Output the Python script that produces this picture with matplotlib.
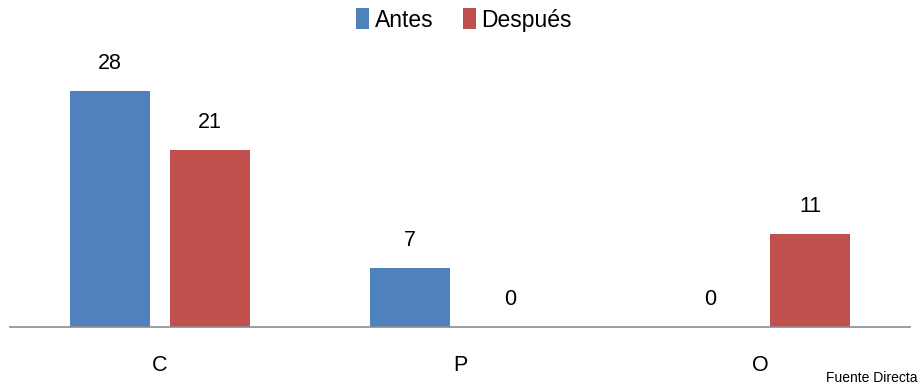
import matplotlib
matplotlib.use("Agg")
import matplotlib.pyplot as plt
import numpy as np

categories = ["C", "P", "O"]
antes = [28, 7, 0]
despues = [21, 0, 11]
series_names = ["Antes", "Después"]
source_note = "Fuente Directa"

BLUE = "#4F81BD"
RED = "#C0504D"

plt.rcParams["font.family"] = ["Liberation Sans", "DejaVu Sans"]

fig = plt.figure(figsize=(9.23, 3.85), dpi=100)
ax = fig.add_axes([10 / 923, 58 / 385, 900 / 923, 287 / 385])

x = np.arange(len(categories))
w = 80 / 300
off = 50 / 300
b1 = ax.bar(x - off, antes, w, color=BLUE, label=series_names[0])
b2 = ax.bar(x + off, despues, w, color=RED, label=series_names[1])

for bars in (b1, b2):
    for rect in bars:
        h = rect.get_height()
        ax.annotate(f"{h:g}", (rect.get_x() + rect.get_width() / 2, h),
                    xytext=(0, 12), textcoords="offset points",
                    ha="center", va="bottom", fontsize=15.5)

ax.set_xlim(-0.5, 2.5)
ax.set_ylim(0, 34)
ax.set_xticks(x)
ax.set_xticklabels(categories, fontsize=15.5)
ax.tick_params(axis="x", length=0, pad=20)
ax.set_yticks([])
for s in ("top", "right", "left"):
    ax.spines[s].set_visible(False)
ax.spines["bottom"].set_color("#8c8c8c")
ax.spines["bottom"].set_linewidth(1.2)

fig.legend(loc="center", bbox_to_anchor=(464 / 923, 1 - 20 / 385), ncol=2,
           frameon=False, fontsize=16.5, handlelength=0.55, handleheight=1.0,
           handletextpad=0.25, columnspacing=1.3, borderpad=0)

fig.text(918 / 923, 1 - 378 / 385, source_note, ha="right", va="center",
         fontsize=10)

fig.savefig("out.png", dpi=100)
